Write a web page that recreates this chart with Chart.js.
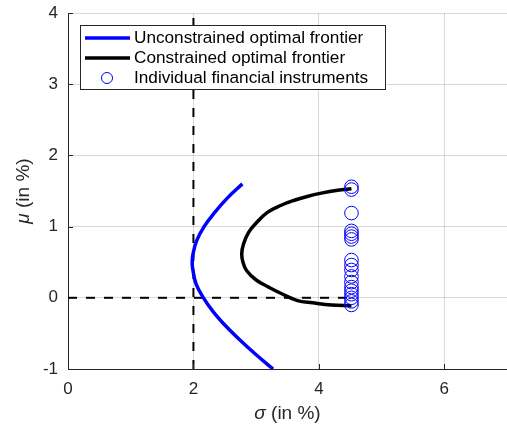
<!DOCTYPE html>
<html>
<head>
<meta charset="utf-8">
<script src="https://cdn.jsdelivr.net/npm/chart.js@4"></script>
<style>
  html, body { margin: 0; padding: 0; background: #fff; }
  #wrap { width: 507px; height: 435px; position: relative; }
</style>
</head>
<body>
<div id="wrap"><canvas id="chart" width="507" height="435"></canvas></div>
<script>
'use strict';

// ─── Data ──────────────────────────────────────────────────────────────────
const xTicks = [0, 2, 4, 6];
const yTicks = [-1, 0, 1, 2, 3, 4];

// unconstrained frontier (sigma, mu)
const freeSigma = [3.27, 3.00, 2.75, 2.52, 2.32, 2.16, 2.04, 1.99, 1.98, 1.99, 2.05, 2.17, 2.34, 2.54, 2.78];
const freeMu    = [-1.0, -0.8, -0.6, -0.4, -0.2, 0.0, 0.2, 0.4, 0.49, 0.6, 0.8, 1.0, 1.2, 1.4, 1.6];

// constrained frontier (sigma, mu)
const consSigma = [4.52, 4.20, 3.90, 3.66, 3.40, 3.20, 3.00, 2.85, 2.79, 2.77, 2.80, 2.88, 3.00, 3.18, 3.40, 3.61, 3.80, 4.04, 4.30, 4.52];
const consMu    = [-0.11, -0.10, -0.07, -0.04, 0.06, 0.15, 0.25, 0.38, 0.50, 0.62, 0.76, 0.92, 1.05, 1.20, 1.30, 1.37, 1.42, 1.47, 1.51, 1.53];

// individual instruments
const assetSigma = [4.52, 4.52, 4.52, 4.52, 4.52, 4.52, 4.52, 4.52, 4.52, 4.52, 4.52, 4.52, 4.52, 4.52, 4.52, 4.52, 4.52, 4.52];
const assetMu    = [1.56, 1.52, 1.19, 0.94, 0.90, 0.86, 0.82, 0.53, 0.46, 0.39, 0.30, 0.22, 0.15, 0.10, 0.05, 0.00, -0.05, -0.10];

// reference lines
const vLineX = [2, 2];
const vLineY = [-1, 4];
const hLineX = [0, 4.52];
const hLineY = [0, 0];

const legendLabels = ['Unconstrained optimal frontier', 'Constrained optimal frontier', 'Individual financial instruments'];

const FONT = "'Liberation Sans', Arial, sans-serif";
const AXIS = '#262626';

const zip = (xs, ys) => xs.map((x, i) => ({ x, y: ys[i] }));

// ─── Plugin: inward ticks, axis titles, legend box ─────────────────────────
const decor = {
  id: 'decor',
  afterDatasetsDraw(chart) {
    const { ctx, chartArea: a, scales: { x, y } } = chart;
    ctx.save();
    // inward tick marks (matlab style)
    ctx.strokeStyle = AXIS;
    ctx.lineWidth = 1;
    ctx.beginPath();
    xTicks.forEach(v => {
      const px = Math.round(x.getPixelForValue(v)) + 0.5;
      ctx.moveTo(px, a.bottom); ctx.lineTo(px, a.bottom - 5);
    });
    yTicks.forEach(v => {
      const py = Math.round(y.getPixelForValue(v)) + 0.5;
      ctx.moveTo(a.left, py); ctx.lineTo(a.left + 5, py);
    });
    ctx.stroke();

    // axis titles
    ctx.fillStyle = AXIS;
    ctx.textBaseline = 'middle';
    const drawTitle = (sym, rest, cx, cy) => {
      ctx.font = 'italic 19px ' + FONT;
      const w1 = ctx.measureText(sym).width;
      ctx.font = '19px ' + FONT;
      const w2 = ctx.measureText(rest).width;
      const x0 = cx - (w1 + w2) / 2;
      ctx.textAlign = 'left';
      ctx.font = 'italic 19px ' + FONT;
      ctx.fillText(sym, x0, cy);
      ctx.font = '19px ' + FONT;
      ctx.fillText(rest, x0 + w1, cy);
    };
    drawTitle('σ', ' (in %)', (a.left + a.right) / 2, 414);
    ctx.save();
    ctx.translate(24, (a.top + a.bottom) / 2);
    ctx.rotate(-Math.PI / 2);
    drawTitle('μ', ' (in %)', 0, 0);
    ctx.restore();

    // legend box
    const bx = 80, by = 25, bw = 305, bh = 64;
    ctx.fillStyle = '#fff';
    ctx.fillRect(bx, by, bw, bh);
    ctx.strokeStyle = AXIS;
    ctx.strokeRect(bx + 0.5, by + 0.5, bw, bh);
    const rows = [38, 58, 78];
    ctx.lineWidth = 3.5;
    ctx.strokeStyle = '#0000ff';
    ctx.beginPath(); ctx.moveTo(85, rows[0]); ctx.lineTo(130, rows[0]); ctx.stroke();
    ctx.strokeStyle = '#000';
    ctx.beginPath(); ctx.moveTo(85, rows[1]); ctx.lineTo(130, rows[1]); ctx.stroke();
    ctx.lineWidth = 1;
    ctx.strokeStyle = '#0000ff';
    ctx.beginPath(); ctx.arc(107, rows[2], 5.5, 0, Math.PI * 2); ctx.stroke();
    ctx.fillStyle = '#000';
    ctx.font = '17.2px ' + FONT;
    ctx.textAlign = 'left';
    legendLabels.forEach((t, i) => ctx.fillText(t, 134, rows[i]));
    ctx.restore();
  }
};

new Chart(document.getElementById('chart'), {
  type: 'scatter',
  data: {
    datasets: [
      {
        label: 'vline',
        data: zip(vLineX, vLineY),
        showLine: true,
        borderColor: '#000',
        borderWidth: 2,
        borderDash: [9, 9],
        pointRadius: 0,
        order: 3,
      },
      {
        label: 'hline',
        data: zip(hLineX, hLineY),
        showLine: true,
        borderColor: '#000',
        borderWidth: 2,
        borderDash: [9, 9],
        pointRadius: 0,
        order: 3,
      },
      {
        label: legendLabels[0],
        data: zip(freeSigma, freeMu),
        showLine: true,
        borderColor: '#0000ff',
        borderWidth: 3.5,
        tension: 0.4,
        pointRadius: 0,
        order: 2,
      },
      {
        label: legendLabels[1],
        data: zip(consSigma, consMu),
        showLine: true,
        borderColor: '#000',
        borderWidth: 3.5,
        tension: 0.4,
        pointRadius: 0,
        order: 1,
      },
      {
        label: legendLabels[2],
        data: zip(assetSigma, assetMu),
        showLine: false,
        borderColor: '#0000ff',
        backgroundColor: 'rgba(0,0,0,0)',
        borderWidth: 1,
        pointRadius: 6.8,
        order: 0,
      },
    ]
  },
  options: {
    responsive: false,
    animation: false,
    layout: { autoPadding: false, padding: { top: 13, right: 0, left: 0, bottom: 0 } },
    plugins: { legend: { display: false }, tooltip: { enabled: false } },
    scales: {
      x: {
        min: 0, max: 7,
        afterFit(s) { s.height = 66; s.paddingLeft = 0; s.paddingRight = 0; },
        afterBuildTicks(s) { s.ticks = xTicks.map(v => ({ value: v })); },
        ticks: { color: AXIS, padding: 10, font: { family: FONT, size: 17 } },
        grid: { color: 'rgba(0,0,0,0.15)', drawTicks: false },
        border: { color: AXIS, width: 1 },
      },
      y: {
        min: -1, max: 4,
        afterFit(s) { s.width = 68; s.paddingTop = 0; s.paddingBottom = 0; },
        afterBuildTicks(s) { s.ticks = yTicks.map(v => ({ value: v })); },
        ticks: { color: AXIS, padding: 10, font: { family: FONT, size: 17 } },
        grid: { color: 'rgba(0,0,0,0.15)', drawTicks: false },
        border: { color: AXIS, width: 1 },
      }
    }
  },
  plugins: [decor]
});
</script>
</body>
</html>
